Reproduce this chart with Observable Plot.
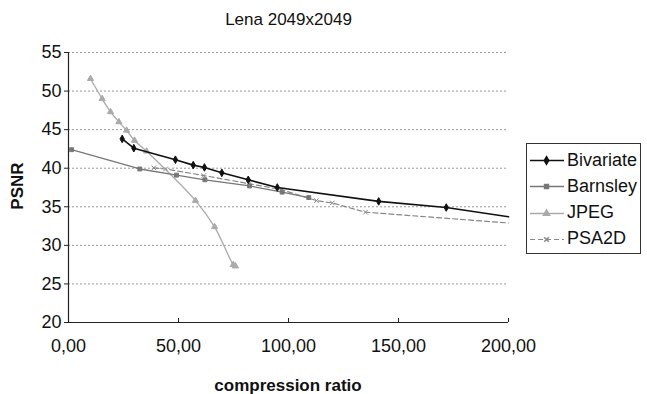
<!DOCTYPE html>
<html><head><meta charset="utf-8">
<script src="https://cdn.jsdelivr.net/npm/d3@7"></script>
<script src="https://cdn.jsdelivr.net/npm/@observablehq/plot@0.6"></script>
<style>
body{margin:0;background:#fff;font-family:"Liberation Sans",Arial,sans-serif;}
#wrap{position:relative;width:647px;height:394px;overflow:hidden;}
.abs{position:absolute;color:#111;}
#legend{position:absolute;left:526px;top:143px;width:115px;height:111px;border:1px solid #333;box-sizing:border-box;background:#fff;}
.li{position:absolute;left:3px;height:20px;display:flex;align-items:center;font-size:18px;color:#111;}
.li svg{margin-right:3px;}
</style></head>
<body><div id="wrap"></div>
<script>
const title = "Lena 2049x2049";
const xLabel = "compression ratio";
const yLabel = "PSNR";
const seriesNames = ["Bivariate", "Barnsley", "JPEG", "PSA2D"];
const xTicks = [0, 50, 100, 150, 200];
const yTicks = [20, 25, 30, 35, 40, 45, 50, 55];

const bivariateX = [24.4, 29.7, 48.6, 56.7, 61.8, 69.7, 81.7, 94.9, 141, 171.7, 200];
const bivariateY = [43.8, 42.6, 41.1, 40.4, 40.1, 39.4, 38.5, 37.5, 35.7, 34.9, 33.7];
const barnsleyX = [1.4, 32.4, 49.1, 62, 82.3, 97.1, 109.2];
const barnsleyY = [42.4, 39.9, 39.1, 38.5, 37.7, 36.9, 36.2];
const jpegX = [10, 15.3, 19.1, 22.9, 26.4, 30, 35.5, 57.7, 66.4, 74.9, 75.9];
const jpegY = [51.6, 49.0, 47.3, 46.0, 44.9, 43.6, 42.2, 35.8, 32.4, 27.5, 27.3];
const psa2dX = [38.8, 44.1, 61.5, 82, 97, 112.7, 119.9, 135, 200];
const psa2dY = [40.05, 39.9, 39.05, 38.0, 37.2, 35.8, 35.5, 34.3, 32.9];

const styles = {
  Bivariate: {stroke: "#111", sw: 1.6, dash: null, symbol: "diamond", r: 2.3, curve: "linear"},
  Barnsley: {stroke: "#777", sw: 1.3, dash: null, symbol: "square", r: 2.2, curve: "linear"},
  JPEG: {stroke: "#aaa", sw: 1.3, dash: null, symbol: "triangle", r: 2.3, curve: "catmull-rom"},
  PSA2D: {stroke: "#888", sw: 1.2, dash: "5,3", symbol: "times", r: 2.2, curve: "linear"}
};

const toRows = (name, xs, ys) => xs.map((x, i) => ({series: name, x, y: ys[i], i, last: i === xs.length - 1}));
const data = {
  Bivariate: toRows("Bivariate", bivariateX, bivariateY),
  Barnsley: toRows("Barnsley", barnsleyX, barnsleyY),
  JPEG: toRows("JPEG", jpegX, jpegY),
  PSA2D: toRows("PSA2D", psa2dX, psa2dY)
};

const fmtX = d => d.toFixed(2).replace(".", ",");

const marks = [
  Plot.gridY(yTicks.filter(t => t > 20), {stroke: "#999", strokeOpacity: 1, strokeDasharray: "2,2", strokeWidth: 1}),
  Plot.ruleX([0], {stroke: "#222", strokeWidth: 1.2}),
  Plot.ruleY([20], {stroke: "#222", strokeWidth: 1.2}),
  Plot.axisY(yTicks, {tickSize: 4, tickPadding: 3, fontSize: 18, stroke: "#222", fill: "#111", label: null}),
  Plot.axisX(xTicks, {tickSize: 0, tickPadding: 17, fontSize: 18, fill: "#111", tickFormat: fmtX, label: null}),
  Plot.axisX(xTicks, {tickSize: -4, text: null, stroke: "#222", label: null})
];
const order = ["PSA2D", "JPEG", "Barnsley", "Bivariate"];
for (const name of order) {
  const s = styles[name];
  marks.push(Plot.line(data[name], {x: "x", y: "y", stroke: s.stroke, strokeWidth: s.sw, strokeDasharray: s.dash, curve: s.curve}));
  marks.push(Plot.dot(data[name].filter(d => !(d.last && d.x >= 200)), {x: "x", y: "y", symbol: () => s.symbol, r: s.r,
    fill: s.symbol === "times" ? "none" : s.stroke, stroke: s.stroke, strokeWidth: 1}));
}

const chart = Plot.plot({
  width: 647, height: 394,
  marginLeft: 68, marginRight: 139, marginTop: 52, marginBottom: 72,
  x: {domain: [0, 200]},
  y: {domain: [20, 55]},
  style: {fontFamily: "Liberation Sans, Arial, sans-serif", background: "#fff"},
  marks
});
const wrap = document.getElementById("wrap");
wrap.appendChild(chart);

const t = document.createElement("div");
t.className = "abs"; t.textContent = title;
t.style.cssText += "left:0;width:577px;text-align:center;top:10px;font-size:17px;";
wrap.appendChild(t);

const xl = document.createElement("div");
xl.className = "abs"; xl.textContent = xLabel;
xl.style.cssText += "left:68px;width:440px;text-align:center;top:376px;font-size:17px;font-weight:bold;";
wrap.appendChild(xl);

const yl = document.createElement("div");
yl.className = "abs"; yl.textContent = yLabel;
yl.style.cssText += "left:-12px;top:176px;width:60px;text-align:center;font-size:17px;font-weight:bold;transform:rotate(-90deg);";
wrap.appendChild(yl);

const lg = document.createElement("div");
lg.id = "legend";
seriesNames.forEach((name, i) => {
  const s = styles[name];
  const row = document.createElement("div");
  row.className = "li";
  row.style.top = (6 + i * 26.3) + "px";
  const sym = Plot.dot([0], {x: () => 16, y: () => 0, symbol: () => s.symbol, r: s.r, fill: s.symbol === "times" ? "none" : s.stroke, stroke: s.stroke}).plot({
    width: 34, height: 14, margin: 0, x: {domain: [0, 34], axis: null}, y: {domain: [-1, 1], axis: null},
    marks: [Plot.ruleY([0], {x1: 0, x2: 34, stroke: s.stroke, strokeWidth: s.sw, strokeDasharray: s.dash})]
  });
  row.appendChild(sym);
  const sp = document.createElement("span"); sp.textContent = name;
  row.appendChild(sp);
  lg.appendChild(row);
});
wrap.appendChild(lg);
</script></body></html>
